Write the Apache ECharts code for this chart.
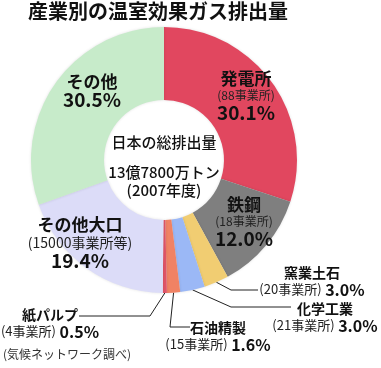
<!DOCTYPE html>
<html>
<head>
<meta charset="utf-8">
<script src="https://cdn.jsdelivr.net/npm/echarts@6/dist/echarts.min.js"></script>
<style>
html,body{margin:0;padding:0;background:#fff;}
#chart{width:381px;height:368px;}
</style>
</head>
<body>
<div id="chart"></div>
<script>
// ---- data ----
const categories = ['発電所','鉄鋼','窯業土石','化学工業','石油精製','紙パルプ','その他大口','その他'];
const shares = [30.1, 12.0, 3.0, 3.0, 1.6, 0.5, 19.4, 30.5];
const facilities = ['88事業所','18事業所','20事業所','21事業所','15事業所','4事業所','15000事業所等', null];
const outerLabel = [false, false, true, true, true, true, false, false];
const titleText = '産業別の温室効果ガス排出量';
const centerLines = ['日本の総排出量', '13億7800万トン', '(2007年度)'];
const sourceText = '(気候ネットワーク調べ)';

// ---- styles ----
const colors = ['#e1475f','#7f7f7f','#f1cd72','#9bb8f6','#f08264','#e05468','#dcdcf8','#c7ebca'];
const FONT = '"Noto Sans CJK JP","Noto Sans",sans-serif';
const LABEL_POS = [
  {x:246, y:96},
  {x:244, y:222},
  {x:312, y:281, elbow:[231,290], end:[258,290]},
  {x:325, y:317, elbow:[231,307], end:[291,307]},
  {x:218, y:336, elbow:[170,327], end:[190,327]},
  {x:50,  y:323, elbow:[150,316], end:[79,316]},
  {x:80,  y:243},
  {x:92,  y:91}
];

const data = categories.map((name, i) => ({
  name: name,
  value: shares[i],
  itemStyle: {color: colors[i]},
  label: outerLabel[i] ? {position: 'outside'} : {position: 'inside'},
  labelLine: {show: outerLabel[i]}
}));

function fmt(p) {
  const i = p.dataIndex;
  const pct = shares[i].toFixed(1) + '%';
  const fac = facilities[i];
  if (outerLabel[i]) {
    return '{m|' + categories[i] + '}\n{s2|(' + fac + ')}{q| ' + pct + '}';
  }
  if (!fac) return '{n|' + categories[i] + '}\n{p|' + pct + '}';
  const sk = fac.length > 5 ? 'sl' : 's';
  return '{n|' + categories[i] + '}\n{' + sk + '|(' + fac + ')}\n{p|' + pct + '}';
}

const chart = echarts.init(document.getElementById('chart'), null, {renderer:'canvas'});
chart.setOption({
  animation: false,
  backgroundColor: '#ffffff',
  graphic: [
    {type:'text', x:28, y:11, style:{text:titleText, font:'bold 20px ' + FONT, fill:'#111', verticalAlign:'middle'}},
    {type:'text', x:164, y:142, z:10, style:{text:centerLines[0], font:'500 15px ' + FONT, fill:'#111', align:'center', verticalAlign:'middle'}},
    {type:'text', x:164, y:172, z:10, style:{text:centerLines[1], font:'500 15px ' + FONT, fill:'#111', align:'center', verticalAlign:'middle'}},
    {type:'text', x:164, y:190, z:10, style:{text:centerLines[2], font:'500 15px ' + FONT, fill:'#111', align:'center', verticalAlign:'middle'}},
    {type:'text', x:3, y:354, style:{text:sourceText, font:'12px ' + FONT, fill:'#333', verticalAlign:'middle'}}
  ],
  series: [{
    type: 'pie',
    center: [164, 160],
    radius: [60, 133],
    startAngle: 90,
    clockwise: true,
    avoidLabelOverlap: false,
    itemStyle: {shadowBlur: 3, shadowColor: 'rgba(0,0,0,0.12)'},
    emphasis: {disabled: true},
    label: {
      show: true,
      formatter: fmt,
      fontFamily: FONT,
      color: '#111',
      rich: {
        n: {fontFamily: FONT, fontSize: 17, fontWeight: 'bold', color: '#111', lineHeight: 18, align:'center'},
        s: {fontFamily: FONT, fontSize: 12, color: '#222', lineHeight: 16, align:'center'},
        sl: {fontFamily: FONT, fontSize: 14, color: '#222', lineHeight: 18, align:'center'},
        p: {fontFamily: FONT, fontSize: 19, fontWeight: 'bold', color: '#111', lineHeight: 19, align:'center'},
        m: {fontFamily: FONT, fontSize: 14, fontWeight: 'bold', color: '#111', lineHeight: 17, align:'center'},
        s2: {fontFamily: FONT, fontSize: 13, color: '#222', lineHeight: 17},
        q: {fontFamily: FONT, fontSize: 16, fontWeight: 'bold', color: '#111', lineHeight: 17}
      }
    },
    labelLine: {
      length: 10, length2: 10,
      lineStyle: {color: '#222', width: 1}
    },
    labelLayout: function (p) {
      const c = LABEL_POS[p.dataIndex];
      const r = {x: c.x, y: c.y, align: 'center', verticalAlign: 'middle'};
      if (c.elbow && p.labelLinePoints) {
        r.labelLinePoints = [p.labelLinePoints[0], c.elbow, c.end];
      }
      return r;
    },
    data: data
  }]
});
</script>
</body>
</html>
